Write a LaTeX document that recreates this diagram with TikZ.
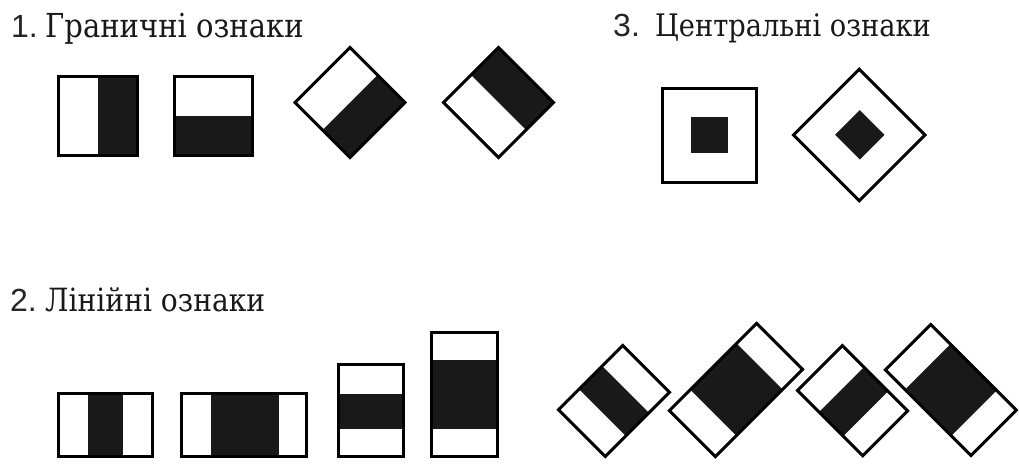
\documentclass[tikz,border=0pt]{standalone}
\usepackage{fontspec}
\setmainfont{DejaVu Serif}
\newfontfamily\titlefont[FakeStretch=0.88]{DejaVu Serif}
\newfontfamily\numfont{Liberation Sans}
\usetikzlibrary{calc}
\tikzset{
  frame/.style={draw=black, line width=3pt, line join=miter},
  ink/.style={fill=black!90},
  title/.style={anchor=base west, inner sep=0pt, text=black!90, font=\titlefont\fontsize{32}{36}\selectfont},
  num/.style={anchor=base west, inner sep=0pt, text=black!85, font=\numfont\fontsize{32}{36}\selectfont},
}
\begin{document}
\begin{tikzpicture}[x=1pt,y=-1pt]
\useasboundingbox[fill=white] (0,0) rectangle (1019,463);

% titles
\node[num]   (n1) at (11,37.5) {1.};
\node[title, font=\titlefont\fontsize{33}{36}\selectfont] (t1) at (45,37.5) {Граничні ознаки};
\node[num]   (n3) at (613,36.5) {3.};
\node[title, font=\titlefont\fontsize{31}{36}\selectfont] (t3) at (655,36.5) {Центральні ознаки};
\node[num]   (n2) at (10,311) {2.};
\node[title] (t2) at (45,311) {Лінійні ознаки};

% ---- 1. edge features
\fill[ink] (98,76.5) rectangle (137.5,155.8);
\draw[frame] (58.5,76.5) rectangle (137.5,155.8);
\fill[ink] (174.8,116) rectangle (252.5,155.8);
\draw[frame] (174.8,76.5) rectangle (252.5,155.8);

\coordinate (a3L) at (295.1,102.5); \coordinate (a3T) at (350,47.6);
\coordinate (a3R) at (404.9,102.5); \coordinate (a3B) at (350,157.4);
\fill[ink] ($(a3L)!0.5!(a3B)$) -- ($(a3T)!0.5!(a3R)$) -- (a3R) -- (a3B) -- cycle;
\draw[frame] (a3L) -- (a3T) -- (a3R) -- (a3B) -- cycle;

\coordinate (a4L) at (443.6,102.5); \coordinate (a4T) at (498.5,47.6);
\coordinate (a4R) at (553.4,102.5); \coordinate (a4B) at (498.5,157.4);
\fill[ink] ($(a4L)!0.5!(a4T)$) -- (a4T) -- (a4R) -- ($(a4R)!0.5!(a4B)$) -- cycle;
\draw[frame] (a4L) -- (a4T) -- (a4R) -- (a4B) -- cycle;

% ---- 3. centre features
\fill[ink] (691,116.8) rectangle (727.6,153);
\draw[frame] (662,88) rectangle (756.3,182.4);
\fill[ink] (835.1,134.8) -- (859.8,110.1) -- (884.5,134.8) -- (859.8,159.5) -- cycle;
\draw[frame] (793.5,135) -- (859.2,69.3) -- (924.9,135) -- (859.2,200.7) -- cycle;

% ---- 2. line features
\fill[ink] (88,393.2) rectangle (122.7,456.5);
\draw[frame] (58.5,393.2) rectangle (152.5,456.5);
\fill[ink] (210.7,393.2) rectangle (279.3,456.5);
\draw[frame] (181.5,393.2) rectangle (306.5,456.5);
\fill[ink] (338.5,394.3) rectangle (403.5,429.3);
\draw[frame] (338.5,364.5) rectangle (403.5,456.5);
\fill[ink] (431.5,360) rectangle (497.5,429.3);
\draw[frame] (431.5,332.5) rectangle (497.5,456.5);

% rotated
\coordinate (d1a) at (558.5,409.84); \coordinate (d1b) at (622.84,345.5);
\coordinate (d1c) at (669.5,392.16); \coordinate (d1d) at (605.16,456.5);
\fill[ink] ($(d1a)!0.32!(d1b)$) -- ($(d1a)!0.68!(d1b)$) -- ($(d1d)!0.68!(d1c)$) -- ($(d1d)!0.32!(d1c)$) -- cycle;
\draw[frame] (d1a) -- (d1b) -- (d1c) -- (d1d) -- cycle;

\coordinate (d2a) at (669.39,410.65); \coordinate (d2b) at (756.65,323.39);
\coordinate (d2c) at (802.61,369.35); \coordinate (d2d) at (715.35,456.61);
\fill[ink] ($(d2a)!0.24!(d2b)$) -- ($(d2a)!0.77!(d2b)$) -- ($(d2d)!0.77!(d2c)$) -- ($(d2d)!0.24!(d2c)$) -- cycle;
\draw[frame] (d2a) -- (d2b) -- (d2c) -- (d2d) -- cycle;

\coordinate (d3a) at (797.48,390.52); \coordinate (d3b) at (842.32,345.68);
\coordinate (d3c) at (907.52,410.88); \coordinate (d3d) at (862.68,455.72);
\fill[ink] ($(d3a)!0.33!(d3d)$) -- ($(d3b)!0.33!(d3c)$) -- ($(d3b)!0.70!(d3c)$) -- ($(d3a)!0.70!(d3d)$) -- cycle;
\draw[frame] (d3a) -- (d3b) -- (d3c) -- (d3d) -- cycle;

\coordinate (d4a) at (885.32,369.92); \coordinate (d4b) at (930.72,324.52);
\coordinate (d4c) at (1016.28,410.08); \coordinate (d4d) at (970.88,455.48);
\fill[ink] ($(d4a)!0.23!(d4d)$) -- ($(d4b)!0.23!(d4c)$) -- ($(d4b)!0.77!(d4c)$) -- ($(d4a)!0.77!(d4d)$) -- cycle;
\draw[frame] (d4a) -- (d4b) -- (d4c) -- (d4d) -- cycle;
\end{tikzpicture}
\end{document}
